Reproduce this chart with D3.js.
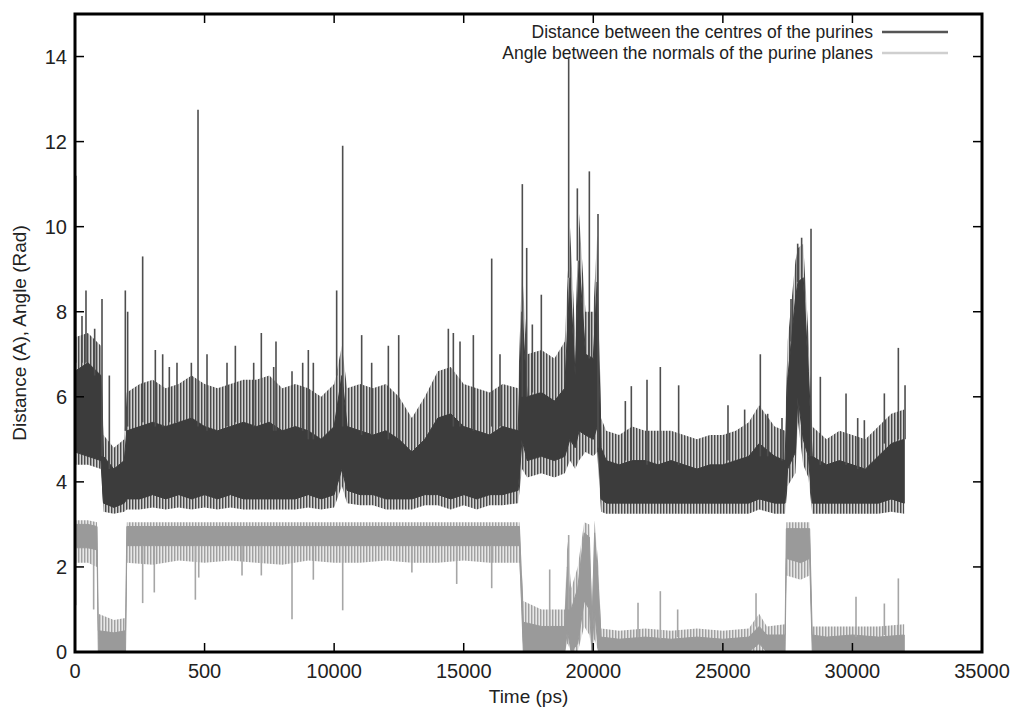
<!DOCTYPE html>
<html>
<head>
<meta charset="utf-8">
<script src="https://cdn.jsdelivr.net/npm/d3@7"></script>
<style>
  body { margin: 0; background: #fff; }
  svg { font-family: "Liberation Sans", Arial, sans-serif; }
</style>
</head>
<body>
<div id="chart"></div>
<script>
// ---- data ----
// x ticks (the second label really reads "500" in the original)
const xTickValues = [0, 5000, 10000, 15000, 20000, 25000, 30000, 35000];
const xTickLabels = ["0", "500", "10000", "15000", "20000", "25000", "30000", "35000"];
const yTickValues = [0, 2, 4, 6, 8, 10, 12, 14];

const seriesNames = ["Distance between the centres of the purines", "Angle between the normals of the purine planes"];

// distance: [time, sparse low, dense low, dense high, sparse high]
const distBand = [
  [0, 4.4, 4.7, 6.6, 7.4], [500, 4.4, 4.6, 6.8, 7.5], [1000, 4.3, 4.5, 6.5, 7.2],
  [1100, 3.3, 3.5, 4.6, 5.1], [1500, 3.25, 3.4, 4.3, 4.8], [1900, 3.3, 3.5, 4.5, 5.0],
  [2000, 3.35, 3.6, 5.2, 6.1], [2500, 3.35, 3.6, 5.3, 6.3], [3000, 3.4, 3.7, 5.4, 6.4],
  [3500, 3.35, 3.6, 5.3, 6.2], [4000, 3.4, 3.7, 5.4, 6.3], [4500, 3.35, 3.6, 5.5, 6.5],
  [5000, 3.4, 3.7, 5.3, 6.3], [5500, 3.35, 3.6, 5.2, 6.2], [6000, 3.4, 3.7, 5.3, 6.3],
  [6500, 3.35, 3.6, 5.4, 6.4], [7000, 3.35, 3.6, 5.3, 6.4], [7500, 3.35, 3.6, 5.4, 6.5],
  [8000, 3.35, 3.6, 5.2, 6.2], [8500, 3.35, 3.6, 5.3, 6.3], [9000, 3.4, 3.7, 5.2, 6.2],
  [9500, 3.35, 3.6, 5.0, 6.0], [10000, 3.4, 3.7, 5.3, 6.3], [10300, 3.9, 4.3, 6.5, 7.2],
  [10500, 3.5, 3.8, 5.3, 6.2], [11000, 3.45, 3.7, 5.2, 6.3], [11500, 3.45, 3.7, 5.1, 6.2],
  [12000, 3.35, 3.6, 5.2, 6.3], [12500, 3.35, 3.6, 5.0, 6.0], [13000, 3.35, 3.6, 4.7, 5.5],
  [13500, 3.45, 3.7, 5.0, 6.0], [14000, 3.45, 3.7, 5.5, 6.6], [14500, 3.35, 3.6, 5.6, 6.7],
  [15000, 3.45, 3.7, 5.3, 6.3], [15500, 3.35, 3.6, 5.2, 6.2], [16000, 3.45, 3.7, 5.1, 6.1],
  [16500, 3.45, 3.7, 5.3, 6.3], [17100, 3.5, 3.8, 5.2, 6.2], [17250, 4.3, 5.0, 8.0, 9.0],
  [17450, 4.1, 4.5, 6.0, 7.0], [18000, 4.2, 4.6, 6.1, 7.1], [18500, 4.1, 4.5, 5.9, 6.9],
  [18900, 4.2, 4.6, 6.2, 7.3], [19100, 4.5, 5.0, 8.8, 10.0], [19300, 4.3, 4.8, 6.5, 7.5],
  [19450, 4.5, 5.2, 9.2, 10.3], [19700, 4.7, 5.1, 7.0, 8.0], [20000, 4.6, 5.0, 6.9, 8.0],
  [20150, 4.7, 5.3, 8.7, 9.8], [20300, 3.3, 3.6, 4.8, 5.5], [20500, 3.25, 3.5, 4.5, 5.2],
  [21000, 3.25, 3.5, 4.4, 5.1], [21500, 3.25, 3.5, 4.5, 5.3], [22000, 3.25, 3.5, 4.5, 5.2],
  [22500, 3.25, 3.5, 4.4, 5.2], [23000, 3.25, 3.5, 4.5, 5.2], [23500, 3.25, 3.5, 4.4, 5.1],
  [24000, 3.25, 3.5, 4.3, 5.0], [24500, 3.25, 3.5, 4.4, 5.1], [25000, 3.25, 3.5, 4.4, 5.1],
  [25500, 3.25, 3.5, 4.5, 5.2], [26000, 3.25, 3.5, 4.6, 5.4], [26400, 3.35, 3.6, 4.9, 5.8],
  [27000, 3.25, 3.5, 4.6, 5.3], [27400, 3.25, 3.5, 4.5, 5.2], [27500, 3.9, 4.3, 6.4, 7.3],
  [27800, 4.2, 4.7, 8.3, 9.2], [27900, 5.4, 6.0, 8.7, 9.5], [28100, 4.4, 5.0, 8.8, 9.6],
  [28300, 4.1, 4.6, 6.6, 7.5], [28450, 3.25, 3.5, 4.6, 5.3], [29000, 3.25, 3.5, 4.4, 5.0],
  [29500, 3.25, 3.5, 4.5, 5.2], [30000, 3.25, 3.5, 4.4, 5.1], [30500, 3.25, 3.5, 4.3, 5.0],
  [31000, 3.25, 3.5, 4.6, 5.3], [31500, 3.3, 3.6, 4.9, 5.6], [32000, 3.25, 3.5, 5.0, 5.7]
];

// distance: isolated peaks [time, value]
const distPeaks = [
  [30, 11.2], [270, 7.9], [424, 8.5], [759, 7.6], [1042, 8.3], [1325, 6.5], [1942, 8.5],
  [2032, 8.0], [2611, 9.3], [3100, 7.1], [3383, 7.0], [3640, 6.7], [3936, 6.8], [4490, 6.8],
  [4747, 12.75], [5094, 7.0], [5866, 6.8], [6188, 7.2], [6895, 6.8], [7190, 7.5], [7667, 6.7],
  [7756, 7.3], [8374, 6.6], [8786, 6.8], [9004, 7.1], [9197, 6.8], [10097, 8.5], [10329, 11.9],
  [11062, 7.45], [11448, 6.8], [12092, 7.2], [12491, 7.45], [14407, 7.6], [14600, 7.5],
  [14857, 7.3], [15372, 7.45], [16080, 9.25], [16400, 7.0], [17262, 11.0], [17430, 9.5],
  [17648, 7.7], [17995, 8.4], [19050, 13.95], [19385, 10.9], [19848, 11.3], [20182, 10.3],
  [21237, 5.9], [21468, 6.25], [22073, 6.4], [22587, 6.7], [23294, 6.27], [25198, 5.8],
  [25841, 5.7], [26446, 7.0], [26729, 5.6], [27282, 5.5], [27630, 7.3], [27887, 9.6],
  [28040, 9.74], [28402, 9.95], [28762, 6.47], [29753, 6.08], [30203, 5.5], [30460, 5.45],
  [31232, 6.08], [31772, 7.15], [32030, 6.27]
];

// angle: [time, sparse low, dense low, dense high, sparse high]
const angleBand = [
  [0, 2.1, 2.45, 3.0, 3.1], [500, 2.1, 2.45, 3.0, 3.1], [850, 2.0, 2.4, 2.95, 3.05],
  [900, 0, 0, 0.5, 0.9], [1500, 0, 0, 0.45, 0.75], [1950, 0, 0, 0.5, 0.8],
  [2000, 2.1, 2.5, 2.95, 3.05], [3000, 2.05, 2.5, 2.95, 3.05], [4000, 2.15, 2.5, 2.95, 3.05],
  [5000, 2.1, 2.5, 2.95, 3.05], [6000, 2.15, 2.5, 2.95, 3.05], [7000, 2.1, 2.5, 2.95, 3.05],
  [8000, 2.05, 2.5, 2.95, 3.05], [9000, 2.15, 2.5, 2.95, 3.05], [10000, 2.1, 2.5, 2.95, 3.05],
  [11000, 2.1, 2.5, 2.95, 3.05], [12000, 2.15, 2.5, 2.95, 3.05], [13000, 2.1, 2.5, 2.95, 3.05],
  [14000, 2.1, 2.5, 2.95, 3.05], [15000, 2.15, 2.5, 2.95, 3.05], [16000, 2.1, 2.5, 2.95, 3.05],
  [17150, 2.1, 2.5, 2.95, 3.05], [17300, 0, 0, 0.7, 1.2], [18000, 0, 0, 0.6, 1.0],
  [18900, 0, 0, 0.6, 1.0], [19000, 0.2, 0.5, 2.0, 2.6], [19150, 0, 0, 1.0, 1.5],
  [19400, 0, 0.2, 1.5, 2.0], [19650, 0.6, 1.2, 2.8, 3.05], [19850, 0.4, 1.0, 2.7, 3.0],
  [19950, 0, 0, 0.6, 1.0], [20050, 0.3, 1.0, 2.8, 3.1], [20200, 0, 0, 1.5, 2.0],
  [20300, 0, 0, 0.35, 0.55], [21000, 0, 0, 0.3, 0.5], [22000, 0, 0, 0.35, 0.55],
  [23000, 0, 0, 0.3, 0.5], [24000, 0, 0, 0.35, 0.55], [25000, 0, 0, 0.3, 0.5],
  [26000, 0, 0, 0.35, 0.55], [26400, 0, 0.2, 0.6, 0.9], [26700, 0, 0, 0.4, 0.6],
  [27400, 0, 0, 0.4, 0.65], [27450, 1.8, 2.2, 2.9, 3.05], [28000, 1.7, 2.1, 2.9, 3.05],
  [28350, 1.8, 2.2, 2.9, 3.05], [28450, 0, 0, 0.4, 0.6], [29000, 0, 0, 0.35, 0.6],
  [30000, 0, 0, 0.4, 0.6], [31000, 0, 0, 0.35, 0.6], [32000, 0, 0, 0.4, 0.65]
];

// angle: isolated excursions [time, value]
const anglePeaks = [
  [30, 1.1], [720, 1.0], [2611, 1.15], [3060, 1.4], [4645, 1.23], [4775, 1.75], [6445, 1.8],
  [7190, 1.8], [8374, 0.77], [9197, 1.7], [10330, 0.98], [13000, 1.87], [14729, 1.6],
  [16080, 1.5], [18318, 1.94], [19050, 2.75], [21726, 1.16], [22587, 1.43], [23256, 1.0],
  [26280, 1.38], [30138, 1.3], [31232, 1.14], [31772, 1.73]
];

// ---- layout ----
const width = 1016, height = 715;
const plot = { left: 75, right: 982, top: 14, bottom: 652 };

const x = d3.scaleLinear().domain([0, 35000]).range([plot.left, plot.right]);
const y = d3.scaleLinear().domain([0, 15]).range([plot.bottom, plot.top]);

const svg = d3.select("#chart").append("svg")
  .attr("width", width)
  .attr("height", height);

const defs = svg.append("defs");
defs.append("clipPath").attr("id", "clip")
  .append("rect")
  .attr("x", plot.left).attr("y", plot.top)
  .attr("width", plot.right - plot.left).attr("height", plot.bottom - plot.top);

// vertical hatching stands in for the many overlapping samples in the sparse fringe
function hatch(id, color) {
  const p = defs.append("pattern").attr("id", id)
    .attr("patternUnits", "userSpaceOnUse")
    .attr("width", 3).attr("height", 10);
  p.append("rect").attr("x", 0).attr("y", 0).attr("width", 1.5).attr("height", 10).attr("fill", color);
  p.append("rect").attr("x", 1.5).attr("y", 0).attr("width", 1.5).attr("height", 10).attr("fill", color).attr("opacity", 0.25);
}
hatch("hatchDist", "#4a4a4a");
hatch("hatchAngle", "#a0a0a0");

const g = svg.append("g").attr("clip-path", "url(#clip)");

const bisect = d3.bisector(d => d[0]).left;
function bandAt(band, t) {
  const i = Math.min(bisect(band, t), band.length - 1);
  return band[i];
}

const outerArea = d3.area().x(d => x(d[0])).y0(d => y(d[1])).y1(d => y(d[4]));
const innerArea = d3.area().x(d => x(d[0])).y0(d => y(d[2])).y1(d => y(d[3]));

function drawSeries(band, peaks, colors) {
  g.append("path").datum(band).attr("d", outerArea)
    .attr("fill", colors.outer).attr("stroke", "none");
  g.append("path").datum(band).attr("d", innerArea)
    .attr("fill", colors.inner).attr("stroke", colors.inner).attr("stroke-width", 1);
  g.append("g").selectAll("line")
    .data(peaks)
    .enter().append("line")
    .attr("x1", d => x(d[0])).attr("x2", d => x(d[0]))
    .attr("y1", d => {
      const b = bandAt(band, d[0]);
      return y(d[1] < b[2] ? b[2] : b[3]);
    })
    .attr("y2", d => y(d[1]))
    .attr("stroke", colors.peak)
    .attr("stroke-width", 1.6);
}

drawSeries(angleBand, anglePeaks, { outer: "url(#hatchAngle)", inner: "#9a9a9a", peak: "#a6a6a6" });
drawSeries(distBand, distPeaks, { outer: "url(#hatchDist)", inner: "#3c3c3c", peak: "#4e4e4e" });

// ---- frame and ticks (mirrored inward ticks) ----
const tickLen = 9;
const axes = svg.append("g").attr("stroke", "#000").attr("stroke-width", 1.5);

xTickValues.forEach(v => {
  axes.append("line").attr("x1", x(v)).attr("x2", x(v)).attr("y1", plot.bottom).attr("y2", plot.bottom - tickLen);
  axes.append("line").attr("x1", x(v)).attr("x2", x(v)).attr("y1", plot.top).attr("y2", plot.top + tickLen);
});
yTickValues.forEach(v => {
  axes.append("line").attr("x1", plot.left).attr("x2", plot.left + tickLen).attr("y1", y(v)).attr("y2", y(v));
  axes.append("line").attr("x1", plot.right).attr("x2", plot.right - tickLen).attr("y1", y(v)).attr("y2", y(v));
});

svg.append("rect")
  .attr("x", plot.left).attr("y", plot.top)
  .attr("width", plot.right - plot.left).attr("height", plot.bottom - plot.top)
  .attr("fill", "none")
  .attr("stroke", "#000")
  .attr("stroke-width", 3);

// tick labels
svg.append("g").selectAll("text")
  .data(xTickValues)
  .enter().append("text")
  .attr("x", d => x(d))
  .attr("y", plot.bottom + 26)
  .attr("text-anchor", "middle")
  .attr("font-size", 20)
  .attr("fill", "#222")
  .text((d, i) => xTickLabels[i]);

svg.append("g").selectAll("text")
  .data(yTickValues)
  .enter().append("text")
  .attr("x", plot.left - 8)
  .attr("y", d => y(d) + 7)
  .attr("text-anchor", "end")
  .attr("font-size", 20)
  .attr("fill", "#222")
  .text(d => d);

// axis titles
svg.append("text")
  .attr("x", (plot.left + plot.right) / 2)
  .attr("y", 703)
  .attr("text-anchor", "middle")
  .attr("font-size", 19)
  .attr("fill", "#222")
  .text("Time (ps)");

svg.append("text")
  .attr("transform", "translate(26," + ((plot.top + plot.bottom) / 2) + ") rotate(-90)")
  .attr("text-anchor", "middle")
  .attr("font-size", 19)
  .attr("fill", "#222")
  .text("Distance (A), Angle (Rad)");

// legend
const legendColors = ["#555555", "#cfcfcf"];
const legend = svg.append("g");
seriesNames.forEach((name, i) => {
  const ly = 32 + i * 21;
  legend.append("text")
    .attr("x", 873).attr("y", ly + 6)
    .attr("text-anchor", "end")
    .attr("font-size", 17.5)
    .attr("fill", "#222")
    .text(name);
  legend.append("line")
    .attr("x1", 882).attr("x2", 948)
    .attr("y1", ly).attr("y2", ly)
    .attr("stroke", legendColors[i])
    .attr("stroke-width", 2.5);
});
</script>
</body>
</html>
